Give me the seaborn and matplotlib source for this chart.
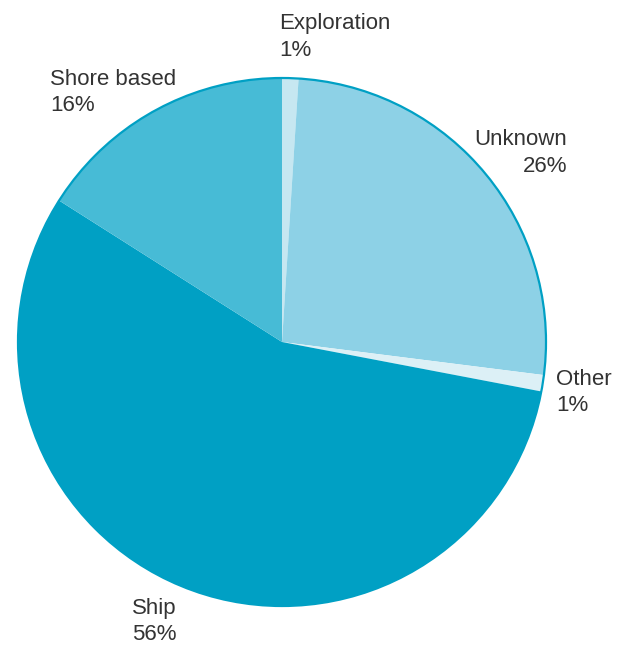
import seaborn as sns
import matplotlib.pyplot as plt
from matplotlib.patches import Circle

categorias = ["Exploration", "Unknown", "Other", "Ship", "Shore based"]
percentuais = [1, 26, 1, 56, 16]
cores = ["#c6e7f1", "#8dd1e6", "#dcf0f6", "#00a0c4", "#47bbd6"]

sns.set_style("white")
plt.rcParams['font.family'] = ['Liberation Sans', 'DejaVu Sans']

fig = plt.figure(figsize=(6.26, 6.46), dpi=100)
# pizza com centro em (282, 342) px e raio 264 px
ax = fig.add_axes([18 / 626, 40 / 646, 528 / 626, 528 / 646])

fatias, _ = ax.pie(percentuais, colors=cores, startangle=90, counterclock=False,
                   radius=1, wedgeprops=dict(linewidth=0))
for f in fatias:
    f.set_clip_on(False)
ax.add_patch(Circle((0, 0), 1, fill=False, edgecolor="#00a0c4",
                    linewidth=1.6, clip_on=False))
ax.set_xlim(-1, 1)
ax.set_ylim(-1, 1)
ax.set_aspect("equal")
ax.axis("off")

# posições dos rótulos (coordenadas de dados)
rotulos = {
    "Exploration": (-0.011, 1.245, "left"),
    "Unknown": (1.08, 0.805, "right"),
    "Other": (1.038, -0.102, "left"),
    "Ship": (-0.568, -0.968, "left"),
    "Shore based": (-0.879, 1.035, "left"),
}
for nome, valor in zip(categorias, percentuais):
    x, y, ha = rotulos[nome]
    ax.text(x, y, f"{nome}\n{valor}%", ha=ha, va="top", multialignment=ha,
            fontsize=16, color="#333333", linespacing=1.33, clip_on=False)

plt.savefig("out.png", dpi=100)
